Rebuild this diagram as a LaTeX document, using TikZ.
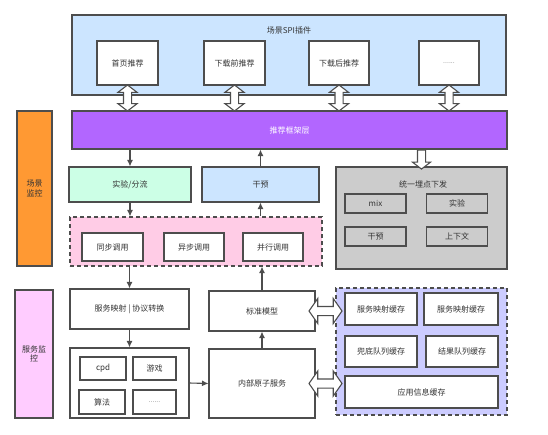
\documentclass[tikz,border=0pt]{standalone}
\usepackage{fontspec}
\setmainfont{Noto Sans CJK SC}
\usetikzlibrary{shapes.arrows,calc,arrows.meta}
\definecolor{linegray}{HTML}{4D4D4D}
\definecolor{textgray}{HTML}{333333}
\definecolor{spiblue}{HTML}{CCE5FF}
\definecolor{framepurple}{HTML}{B266FF}
\definecolor{sceneorange}{HTML}{FF9933}
\definecolor{abgreen}{HTML}{CCFFE6}
\definecolor{trackgray}{HTML}{CCCCCC}
\definecolor{invokepink}{HTML}{FFCCE6}
\definecolor{monpink}{HTML}{FFCCFF}
\definecolor{cachelilac}{HTML}{CCCCFF}
\begin{document}
\begin{tikzpicture}[
        x=1pt, y=-1pt,
        -{Latex[length=6.5pt,width=6pt]} ,
        font=\fontsize{8}{9.5}\selectfont ,
        text=textgray ,
        sz/.style 2 args ={minimum width=#1pt, minimum height=#2pt},
        box/.style ={draw=linegray, line width=1.1pt, fill=white, inner sep=0pt, align=center},
        group/.style ={box, dash pattern=on 4pt off 3pt},
        link/.style ={draw=linegray, line width=1.1pt},
        hollow/.style ={draw=linegray, line width=1.1pt, fill=white, inner sep=3.5pt},
        updown/.style ={hollow, double arrow, rotate=90, minimum height=26pt,
            double arrow head extend=5.5pt, double arrow tip angle=105},
        leftright/.style ={hollow, double arrow, minimum height=33pt, inner sep=4pt,
            double arrow head extend=8pt, double arrow tip angle=110},
        down/.style ={hollow, single arrow, rotate=-90, minimum height=19pt,
            single arrow head extend=5pt, single arrow tip angle=105},
    ]
    \useasboundingbox (0,0) rectangle (548,434);

    % scene SPI plugins
    \node[box, fill=spiblue, sz={434}{80}] (spi) at (289,55) {};
    \node (spititle) at (289,30) {场景SPI插件};
    \node[box, sz={61}{44}] (home) at (127.5,63) {首页推荐};
    \node[box, sz={61}{44}] (pre) at (234.5,63) {下载前推荐};
    \node[box, sz={60}{44}] (post) at (339,63) {下载后推荐};
    \node[box, sz={60}{44}, text=gray] (more) at (449,63) {\scriptsize ......};

    % framework layer
    \node[box, fill=framepurple, text=white, sz={435}{38}] (frame) at (289.5,130) {推荐框架层};

    \node[updown] (a-home) at ($(home.south)!.5!(home.south |- frame.north)$) {};
    \node[updown] (a-pre) at ($(pre.south)!.5!(pre.south |- frame.north)$) {};
    \node[updown] (a-post) at ($(post.south)!.5!(post.south |- frame.north)$) {};
    \node[updown] (a-more) at ($(more.south)!.5!(more.south |- frame.north)$) {};

    % monitors
    \node[box, fill=sceneorange, sz={35}{155}] (scenemon) at (34.5,188.5) {场景\\监控};
    \node[box, fill=monpink, sz={38}{128}] (svcmon) at (34,354) {服务监\\控};

    % scene layer
    \node[box, fill=abgreen, sz={122}{35}] (abtest) at (130,184.5) {实验/分流};
    \node[box, fill=spiblue, sz={117}{35}] (interv) at (260.5,184.5) {干预};

    \node[box, fill=trackgray, sz={171}{102}] (track) at (421.5,218) {};
    \node (tracktitle) at (423,184) {统一埋点下发};
    \node[box, fill=trackgray, sz={61}{19}] (mix) at (375.5,203.5) {mix};
    \node[box, fill=trackgray, sz={61}{19}] (exp) at (457,203.5) {实验};
    \node[box, fill=trackgray, sz={61}{19}] (tint) at (375.5,236.5) {干预};
    \node[box, fill=trackgray, sz={61}{19}] (ctx) at (457,236.5) {上下文};
    \node[down] (a-track) at ($(track.north)!.5!(track.north |- frame.south)$) {};

    \node[group, fill=invokepink, sz={252}{49}] (invoke) at (196,241.5) {};
    \node[box, sz={61}{28}] (sync) at (112.5,247) {同步调用};
    \node[box, sz={60}{28}] (async) at (194,247) {异步调用};
    \node[box, sz={60}{28}] (par) at (273,247) {并行调用};

    % service layer
    \node[box, sz={119}{40}] (mapping) at (129.5,309) {服务映射 | 协议转换};
    \node[box, sz={119}{70}] (biz) at (129.5,383) {};
    \node[box, sz={46}{23}] (cpd) at (103,368.5) {cpd};
    \node[box, sz={43}{23}] (game) at (154.5,368.5) {游戏};
    \node[box, sz={46}{24}] (algo) at (102,402) {算法};
    \node[box, sz={43}{24}, text=gray] (dots) at (154.5,402) {\scriptsize ......};

    \node[box, sz={106}{40}] (stdmodel) at (262,311) {标准模型};
    \node[box, sz={106}{69}] (atomic) at (262,383.5) {内部原子服务};

    \node[group, fill=cachelilac, sz={171}{127}] (cache) at (421.5,351.5) {};
    \node[box, sz={72}{32}] (mapc1) at (381,309) {服务映射缓存};
    \node[box, sz={74}{32}] (mapc2) at (461,309) {服务映射缓存};
    \node[box, sz={72}{31}] (fallback) at (381,351.5) {兜底队列缓存};
    \node[box, sz={72}{31}] (result) at (462,351.5) {结果队列缓存};
    \node[box, sz={153}{32}] (appinfo) at (421.5,392) {应用信息缓存};

    \node[leftright] (a-std) at ($(stdmodel.east)!.5!(stdmodel.east -| cache.west)$) {};
    \node[leftright] (a-atomic) at ($(atomic.east)!.5!(atomic.east -| cache.west)$) {};

    % calls
    \path[link] (abtest.north |- frame.south) -- (abtest.north);
    \path[link] (interv.north) -- (interv.north |- frame.south);
    \path[link] (abtest.south) -- (abtest.south |- invoke.north);
    \path[link] (invoke.north -| interv) -- (interv.south);
    \path[link] (invoke.south -| mapping) -- (mapping.north);
    \path[link] (stdmodel.north) -- (stdmodel.north |- invoke.south);
    \path[link] (mapping) -- (biz);
    \path[link] (biz.east) -- (atomic.west);
    \path[link] (atomic) -- (stdmodel);

\end{tikzpicture}
\end{document}
